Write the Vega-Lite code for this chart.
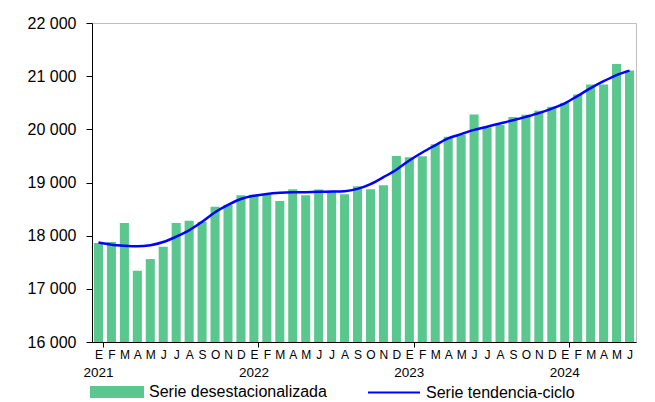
{
  "$schema": "https://vega.github.io/schema/vega-lite/v6.json",
  "width": 544,
  "height": 319,
  "autosize": {"type": "none"},
  "padding": {"left": 92, "top": 23, "right": 19, "bottom": 60},
  "background": "white",
  "config": {
    "font": "Liberation Sans",
    "view": {"stroke": "#bfbfbf", "strokeWidth": 1}
  },
  "data": {
    "values": [
      {"m": "2021-01", "desest": 17860, "tend": 17870},
      {"m": "2021-02", "desest": 17880, "tend": 17830},
      {"m": "2021-03", "desest": 18240, "tend": 17810},
      {"m": "2021-04", "desest": 17340, "tend": 17800},
      {"m": "2021-05", "desest": 17560, "tend": 17820},
      {"m": "2021-06", "desest": 17790, "tend": 17880},
      {"m": "2021-07", "desest": 18240, "tend": 17980},
      {"m": "2021-08", "desest": 18280, "tend": 18100},
      {"m": "2021-09", "desest": 18260, "tend": 18260},
      {"m": "2021-10", "desest": 18545, "tend": 18440},
      {"m": "2021-11", "desest": 18580, "tend": 18580},
      {"m": "2021-12", "desest": 18760, "tend": 18690},
      {"m": "2022-01", "desest": 18770, "tend": 18750},
      {"m": "2022-02", "desest": 18775, "tend": 18785},
      {"m": "2022-03", "desest": 18650, "tend": 18805},
      {"m": "2022-04", "desest": 18875, "tend": 18815},
      {"m": "2022-05", "desest": 18762, "tend": 18818},
      {"m": "2022-06", "desest": 18868, "tend": 18824},
      {"m": "2022-07", "desest": 18824, "tend": 18830},
      {"m": "2022-08", "desest": 18780, "tend": 18837},
      {"m": "2022-09", "desest": 18930, "tend": 18880},
      {"m": "2022-10", "desest": 18875, "tend": 18970},
      {"m": "2022-11", "desest": 18950, "tend": 19100},
      {"m": "2022-12", "desest": 19500, "tend": 19240},
      {"m": "2023-01", "desest": 19476, "tend": 19415},
      {"m": "2023-02", "desest": 19495, "tend": 19565},
      {"m": "2023-03", "desest": 19720, "tend": 19700},
      {"m": "2023-04", "desest": 19860, "tend": 19830},
      {"m": "2023-05", "desest": 19905, "tend": 19910},
      {"m": "2023-06", "desest": 20280, "tend": 19990},
      {"m": "2023-07", "desest": 20035, "tend": 20050},
      {"m": "2023-08", "desest": 20080, "tend": 20110},
      {"m": "2023-09", "desest": 20230, "tend": 20170},
      {"m": "2023-10", "desest": 20275, "tend": 20235},
      {"m": "2023-11", "desest": 20350, "tend": 20305},
      {"m": "2023-12", "desest": 20425, "tend": 20390},
      {"m": "2024-01", "desest": 20500, "tend": 20490},
      {"m": "2024-02", "desest": 20655, "tend": 20630},
      {"m": "2024-03", "desest": 20845, "tend": 20775},
      {"m": "2024-04", "desest": 20845, "tend": 20905},
      {"m": "2024-05", "desest": 21230, "tend": 21020},
      {"m": "2024-06", "desest": 21108, "tend": 21105}
    ]
  },
  "layer": [
    {
      "mark": {"type": "bar", "color": "#5ac78e"},
      "encoding": {
        "x": {
          "field": "m",
          "type": "ordinal",
          "scale": {"paddingInner": 0.3, "paddingOuter": 0.15},
          "axis": {
            "title": null,
            "labelAngle": 0,
            "labelFontSize": 12,
            "labelColor": "black",
            "labelPadding": 2,
            "labelOverlap": false,
            "labelExpr": "isString(datum.value) ? slice('EFMAMJJASOND', toNumber(slice(datum.value,5,7))-1, toNumber(slice(datum.value,5,7))) : ''",
            "domainColor": "black",
            "tickSize": 5,
            "tickBand": "extent",
            "tickColor": {"condition": {"test": "isString(datum.value) && slice(datum.value,5,7)=='01'", "value": "black"}, "value": "transparent"}
          }
        },
        "y": {
          "field": "desest",
          "type": "quantitative",
          "scale": {"domain": [16000, 22000], "nice": false, "zero": false},
          "axis": {
            "title": null,
            "grid": false,
            "values": [16000, 17000, 18000, 19000, 20000, 21000, 22000],
            "labelExpr": "replace(format(datum.value, ','), ',', ' ')",
            "labelFontSize": 16,
            "labelColor": "black",
            "labelPadding": 10,
            "tickSize": 6,
            "tickColor": "black",
            "domainColor": "black"
          }
        },
        "y2": {"datum": 16000},
        "color": {
          "datum": "Serie desestacionalizada",
          "scale": {"domain": ["Serie desestacionalizada", "Serie tendencia-ciclo"], "range": ["#5ac78e", "#0000ff"]},
          "legend": {
            "title": null,
            "orient": "none",
            "direction": "horizontal",
            "legendX": -2,
            "legendY": 342,
            "padding": 0,
            "symbolSize": 2704,
            "symbolOpacity": 1,
            "labelFontSize": 16,
            "labelColor": "black",
            "labelOffset": 5,
            "labelLimit": 300,
            "columnPadding": 37,
            "encode": {
              "symbols": {
                "update": {
                  "shape": {"signal": "datum.value === 'Serie desestacionalizada' ? 'M-1,-0.19H1V0.19H-1Z' : 'M-1,0H1'"},
                  "fill": {"signal": "datum.value === 'Serie desestacionalizada' ? '#5ac78e' : 'transparent'"},
                  "stroke": {"signal": "datum.value === 'Serie desestacionalizada' ? 'transparent' : '#0000ff'"},
                  "strokeWidth": {"value": 2},
                  "opacity": {"value": 1}
                }
              }
            }
          }
        }
      }
    },
    {
      "mark": {"type": "line", "interpolate": "monotone", "strokeWidth": 2.5},
      "encoding": {
        "x": {
          "field": "m",
          "type": "ordinal",
          "bandPosition": 0.5,
          "axis": {
            "title": null,
            "orient": "bottom",
            "labelAngle": 0,
            "values": ["2021-01", "2022-01", "2023-01", "2024-01"],
            "labelExpr": "slice(datum.value,0,4)",
            "labelFontSize": 13.5,
            "labelColor": "black",
            "labelPadding": 23,
            "labelOverlap": false,
            "ticks": false,
            "tickSize": 0,
            "domain": false
          }
        },
        "y": {"field": "tend", "type": "quantitative"},
        "color": {"datum": "Serie tendencia-ciclo"}
      }
    }
  ],
  "resolve": {"axis": {"x": "independent", "y": "shared"}}
}
